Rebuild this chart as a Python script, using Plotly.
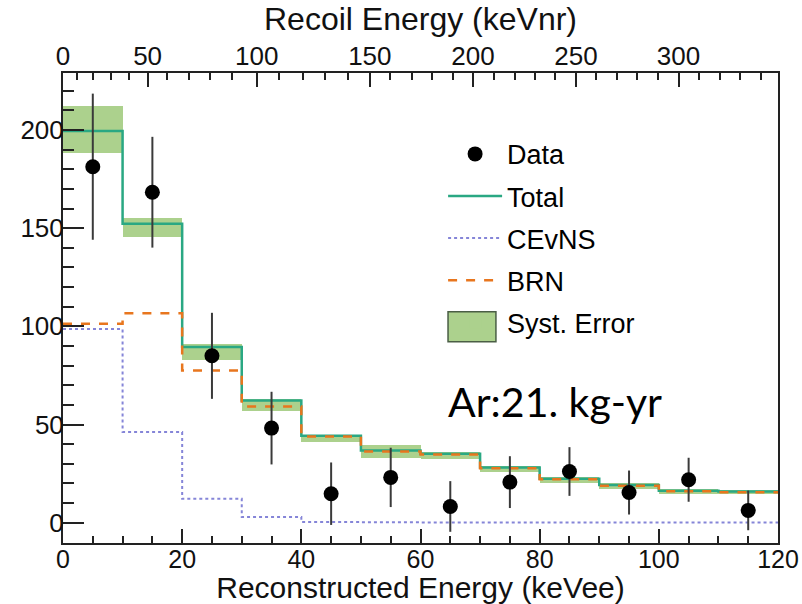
import plotly.graph_objects as go

# ---------------- data ----------------
bin_edges = [0, 10, 20, 30, 40, 50, 60, 70, 80, 90, 100, 110, 120]
bin_centers = [5, 15, 25, 35, 45, 55, 65, 75, 85, 95, 105, 115]

total = [199.5, 152.2, 89.5, 62.2, 44.3, 36.8, 35.1, 28.1, 22.4, 19.2, 16.3, 15.9]
brn = [101.3, 106.7, 77.5, 59.2, 43.9, 36.3, 34.8, 27.8, 22.1, 18.9, 16.0, 15.6]
cevns = [98.6, 46.2, 12.2, 2.9, 0.4, 0.3, 0.2, 0.2, 0.1, 0.1, 0.1, 0.1]

syst_lo = [188.1, 145.4, 83.0, 57.0, 40.9, 33.2, 32.4, 25.6, 20.5, 17.2, 14.6, 14.6]
syst_hi = [212.4, 155.1, 90.9, 63.0, 44.8, 39.7, 35.8, 29.1, 23.3, 20.0, 17.2, 16.8]

data_y = [181.3, 168.3, 85.0, 48.2, 14.8, 23.1, 8.3, 20.7, 26.1, 15.4, 21.9, 6.3]
data_err = [37.2, 28.2, 21.9, 18.5, 15.9, 15.1, 12.9, 13.2, 12.4, 11.2, 11.2, 10.1]

# top axis: recoil energy (keVnr) labels and their position on the keVee scale
recoil_labels = ["0", "50", "100", "150", "200", "250", "300"]
recoil_label_pos = [0, 14.2, 32.5, 51.5, 68.8, 86.1, 103.3]
recoil_minor_pos = [2.4, 5.0, 8.0, 11.05, 17.4, 21.1, 24.75, 28.4,
                    36.3, 40.2, 44.0, 47.8, 54.9, 58.55, 62.0, 65.4,
                    72.3, 75.8, 79.2, 82.6, 89.5, 93.0, 96.3, 99.8,
                    106.7, 110.2, 113.6, 117.1]

# ---------------- styling ----------------
FONT = "Liberation Sans"
AX = "#222222"
C_TOTAL = "#2aa883"
C_BRN = "#e8761e"
C_CEVNS = "#8585d8"
C_BAND = "#acd18d"


def step(vals):
    return list(vals) + [vals[-1]]


fig = go.Figure()

# systematic band (bars spanning each bin)
fig.add_trace(go.Bar(
    x=bin_centers,
    base=syst_lo,
    y=[h - l for h, l in zip(syst_hi, syst_lo)],
    width=10,
    marker=dict(color=C_BAND, line=dict(color=C_BAND, width=0)),
    name="Syst. Error",
    legendrank=5,
    legendgroup="e",
    hoverinfo="skip",
))

fig.add_trace(go.Scatter(
    x=bin_edges, y=step(cevns), mode="lines", line_shape="hv",
    line=dict(color=C_CEVNS, width=2, dash="dot"),
    name="CEvNS", legendrank=3, legendgroup="c",
))

fig.add_trace(go.Scatter(
    x=bin_edges, y=step(total), mode="lines", line_shape="hv",
    line=dict(color=C_TOTAL, width=2.5),
    name="Total", legendrank=2, legendgroup="t",
))

fig.add_trace(go.Scatter(
    x=bin_edges, y=step(brn), mode="lines", line_shape="hv",
    line=dict(color=C_BRN, width=2.5, dash="dash"),
    name="BRN", legendrank=4, legendgroup="b",
))

fig.add_trace(go.Scatter(
    x=bin_centers, y=data_y, mode="markers",
    marker=dict(color="black", size=15),
    error_y=dict(type="data", array=data_err, color="#3a3a3a", thickness=2, width=0),
    name="Data", legendrank=1, legendgroup="d",
))

# invisible trace to activate top axis
fig.add_trace(go.Scatter(x=[0, 120], y=[None, None], xaxis="x2", showlegend=False,
                         hoverinfo="skip", mode="lines"))

fig.add_annotation(
    text="Ar:21. kg-yr", xref="paper", yref="paper", x=0.5355, y=0.302,
    xanchor="left", yanchor="middle", showarrow=False,
    font=dict(family="Lato, Open Sans, sans-serif", size=41, color="black"),
)

# larger bordered swatch behind the legend's Syst. Error symbol
fig.add_shape(
    type="rect", xref="paper", yref="paper",
    x0=0.5385, x1=0.6055, y0=0.4283, y1=0.4922,
    fillcolor=C_BAND, line=dict(color="#4a5e45", width=1.5), layer="above",
)

fig.update_layout(
    width=802, height=604,
    margin=dict(l=63, r=24, t=73, b=61, autoexpand=False),
    paper_bgcolor="white", plot_bgcolor="white",
    font=dict(family=FONT, color="#111111", size=26),
    showlegend=True,
    bargap=0,
    legend=dict(
        x=0.5316, y=0.879, xanchor="left", yanchor="top",
        bgcolor="rgba(0,0,0,0)", borderwidth=0,
        font=dict(family=FONT, size=27, color="black"),
        tracegroupgap=4, itemwidth=54,
    ),
    xaxis=dict(
        range=[0, 120], showgrid=False, zeroline=False, automargin=False,
        showline=True, linecolor=AX, linewidth=2, mirror=False,
        ticks="inside", ticklen=14, tickwidth=2, tickcolor=AX,
        tick0=0, dtick=20, ticklabelstandoff=-7,
        minor=dict(ticks="inside", ticklen=7, tickwidth=2, tickcolor=AX, dtick=5, tick0=0),
        tickfont=dict(size=25),
        title=dict(text="Reconstructed Energy (keVee)", font=dict(size=30), standoff=3),
    ),
    xaxis2=dict(
        overlaying="x", side="top", range=[0, 120], showgrid=False, zeroline=False,
        automargin=False,
        showline=True, linecolor=AX, linewidth=2,
        tickmode="array", tickvals=recoil_label_pos, ticktext=recoil_labels,
        ticks="inside", ticklen=14, tickwidth=2, tickcolor=AX, ticklabelstandoff=-4,
        minor=dict(ticks="inside", ticklen=7, tickwidth=2, tickcolor=AX,
                   tickmode="array", tickvals=recoil_minor_pos),
        tickfont=dict(size=26),
        title=dict(text="Recoil Energy (keVnr)", font=dict(size=32), standoff=0),
    ),
    yaxis=dict(
        range=[-10.3, 229], showgrid=False, zeroline=False, automargin=False,
        showline=True, linecolor=AX, linewidth=2, mirror=True,
        ticks="inside", ticklen=21, tickwidth=2, tickcolor=AX,
        tick0=0, dtick=50, ticklabelstandoff=-8,
        minor=dict(ticks="inside", ticklen=11, tickwidth=2, tickcolor=AX, dtick=10, tick0=0),
        tickfont=dict(size=26),
    ),
)

fig.write_html("out.html")
